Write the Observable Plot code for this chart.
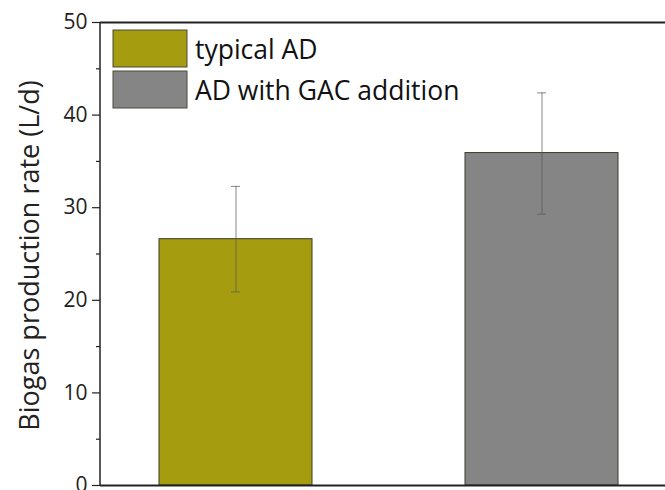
<!DOCTYPE html>
<html>
<head>
<meta charset="utf-8">
<script src="https://cdn.jsdelivr.net/npm/d3@7"></script>
<script src="https://cdn.jsdelivr.net/npm/@observablehq/plot@0.6"></script>
<style>
  html, body { margin: 0; padding: 0; background: white; overflow: hidden; }
  #chart svg { display: block; overflow: visible; }
</style>
</head>
<body>
<div id="chart"></div>
<script>
// Data
const categories = ["typical AD", "AD with GAC addition"];
const values = [26.6, 35.9];
const errLow = [20.9, 29.3];
const errHigh = [32.3, 42.4];
const colors = ["#a59c10", "#858585"];
const majorTicks = [0, 10, 20, 30, 40, 50];
const minorTicks = [5, 15, 25, 35, 45];
const yLabel = "Biogas production rate (L/d)";

const data = categories.map((c, i) => ({
  cat: c, value: values[i], lo: errLow[i], hi: errHigh[i], color: colors[i]
}));

const font = "'Open Sans', sans-serif";

const chart = Plot.plot({
  width: 665,
  height: 490,
  marginLeft: 100,
  marginRight: 0,
  marginTop: 22,
  marginBottom: 5,
  style: { fontFamily: font, background: "white", overflow: "visible" },
  x: { domain: categories, range: [100, 676], paddingInner: 0.5, paddingOuter: 0.19, align: 0.5, axis: null },
  y: { domain: [0, 50], range: [485, 22] },
  marks: [
    Plot.barY(data, { x: "cat", y: "value", fill: "color", stroke: "#3a3a2a", strokeWidth: 1 }),
    Plot.ruleX(data, { x: "cat", y1: "lo", y2: "hi", stroke: "#555", strokeOpacity: 0.7, strokeWidth: 1 }),
    Plot.tickY(data, { x: "cat", y: "hi", stroke: "#555", strokeOpacity: 0.7, insetLeft: 72, insetRight: 72 }),
    Plot.tickY(data, { x: "cat", y: "lo", stroke: "#555", strokeOpacity: 0.7, insetLeft: 72, insetRight: 72 }),
    Plot.axisY({ ticks: minorTicks, tickSize: 4, text: null, label: null, stroke: "#222", strokeWidth: 1.2 }),
    Plot.axisY({ ticks: majorTicks, tickSize: 8, tickPadding: 5, fontSize: 21, fill: "#222", stroke: "#222", strokeWidth: 1.2,
      label: null }),
    Plot.ruleY([50], { stroke: "#222", strokeWidth: 2 }),
    Plot.ruleY([0], { stroke: "#222", strokeWidth: 2 })
  ]
});

document.getElementById("chart").appendChild(chart);

const svg = d3.select(chart);
const yScale = chart.scale("y");

// left axis line
svg.append("line")
  .attr("x1", 100).attr("x2", 100)
  .attr("y1", yScale.apply(0)).attr("y2", yScale.apply(50))
  .attr("stroke", "#222").attr("stroke-width", 1.5);

// y-axis title
svg.append("text")
  .attr("transform", `translate(28,${(yScale.apply(0) + yScale.apply(50)) / 2 + 2}) rotate(-90)`)
  .attr("text-anchor", "middle")
  .attr("dominant-baseline", "central")
  .attr("font-family", font)
  .attr("font-size", 27)
  .attr("fill", "#222")
  .text(yLabel);

// legend inside plot
const lg = svg.append("g").attr("font-family", font).attr("text-anchor", "start");
categories.forEach((c, i) => {
  const top = 30 + i * 41;
  lg.append("rect").attr("x", 113).attr("y", top).attr("width", 74).attr("height", 37)
    .attr("fill", colors[i]).attr("stroke", "#4a4a3a").attr("stroke-width", 1);
  lg.append("text").attr("x", 195).attr("y", top + 29).attr("font-size", 26.5)
    .attr("text-anchor", "start")
    .attr("fill", "#111").text(c);
});
</script>
</body>
</html>
